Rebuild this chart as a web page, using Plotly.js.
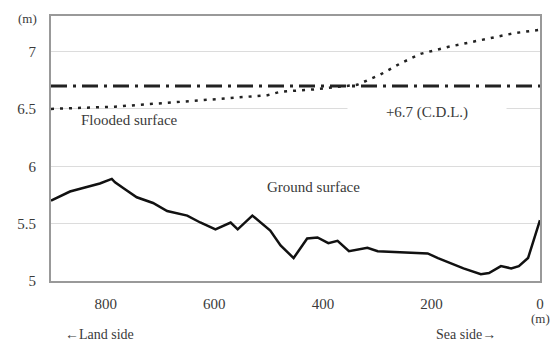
<!DOCTYPE html>
<html><head><meta charset="utf-8">
<script src="https://cdn.plot.ly/plotly-3.0.1.min.js"></script>
<style>html,body{margin:0;padding:0;background:#fff}#c{width:560px;height:342px}</style>
</head><body><div id="c"></div>
<script>
const groundX = [901,866,842,811,789,783,768,743,713,687,650,626,598,570,557,530,497,478,454,429,410,390,373,352,318,299,207,188,141,109,94,72,53,39,22,0];
const groundY = [5.70,5.78,5.81,5.85,5.89,5.86,5.81,5.73,5.68,5.61,5.57,5.51,5.45,5.51,5.45,5.57,5.44,5.31,5.20,5.37,5.38,5.33,5.35,5.26,5.29,5.26,5.24,5.20,5.11,5.06,5.07,5.13,5.11,5.13,5.20,5.53];
const floodX = [901,783,639,502,478,417,337,294,256,220,170,109,48,0];
const floodY = [6.50,6.52,6.57,6.62,6.65,6.67,6.71,6.80,6.90,6.98,7.04,7.10,7.16,7.19];
const cdlX = [901,0];
const cdlY = [6.7,6.7];
const xTicks = [800,600,400,200,0];
const xTickText = ['800','600','400','200','0'];
const yTicks = [5,5.5,6,6.5,7];
const yTickText = ['5','5.5','6','6.5','7'];

const F = '"Times New Roman", "Liberation Serif", "DejaVu Serif", serif';
const TC = '#3a3a3a';
const traces = [
  {x: cdlX, y: cdlY, mode:'lines', line:{color:'#222', width:3, dash:'16px,6px,3px,6px'}, hoverinfo:'skip'},
  {x: floodX, y: floodY, mode:'lines', line:{color:'#222', width:2.5, dash:'3px,6px'}, hoverinfo:'skip'},
  {x: groundX, y: groundY, mode:'lines', line:{color:'#111', width:2.5}, hoverinfo:'skip'}
];
const layout = {
  width:560, height:342, showlegend:false,
  margin:{l:51, r:20, t:16, b:61},
  paper_bgcolor:'#fff', plot_bgcolor:'#fff',
  font:{family:F, size:15, color:TC},
  xaxis:{range:[901,0], tickvals:xTicks, ticktext:xTickText, showgrid:false, zeroline:false,
    showline:true, mirror:true, linecolor:'#999', linewidth:2, ticks:'', ticklen:0, ticklabelstandoff:8,
    tickfont:{family:F, size:15, color:TC}},
  yaxis:{range:[5,7.31], tickvals:yTicks, ticktext:yTickText, showgrid:true, gridcolor:'#dcdcdc', gridwidth:1,
    zeroline:false, showline:true, mirror:true, linecolor:'#999', linewidth:2, ticks:'', ticklen:0, ticklabelstandoff:10,
    tickfont:{family:F, size:15, color:TC}},
  annotations:[
    {xref:'paper', yref:'paper', x:-0.048, y:0.992, text:'(m)', showarrow:false, xanchor:'center', yanchor:'middle', font:{family:F,size:13,color:TC}},
    {xref:'x', yref:'paper', x:0, y:-0.14, text:'(m)', showarrow:false, xanchor:'center', yanchor:'middle', font:{family:F,size:13,color:TC}},
    {xref:'paper', yref:'paper', x:0.1, y:-0.2, text:'←Land side', showarrow:false, xanchor:'center', yanchor:'middle', font:{family:F,size:14,color:TC}},
    {xref:'paper', yref:'paper', x:0.849, y:-0.2, text:'Sea side→', showarrow:false, xanchor:'center', yanchor:'middle', font:{family:F,size:14,color:TC}},
    {xref:'x', yref:'y', x:757, y:6.40, text:'Flooded surface', showarrow:false, xanchor:'center', yanchor:'middle', font:{family:F,size:15,color:TC}},
    {xref:'x', yref:'y', x:208, y:6.47, text:'+6.7 (C.D.L.)', showarrow:false, xanchor:'center', yanchor:'middle', bgcolor:'#fff', width:156, height:18, font:{family:F,size:15,color:TC}},
    {xref:'x', yref:'y', x:417, y:5.82, text:'Ground surface', showarrow:false, xanchor:'center', yanchor:'middle', font:{family:F,size:15,color:TC}}
  ]
};
Plotly.newPlot('c', traces, layout, {displayModeBar:false, staticPlot:true});
</script></body></html>
